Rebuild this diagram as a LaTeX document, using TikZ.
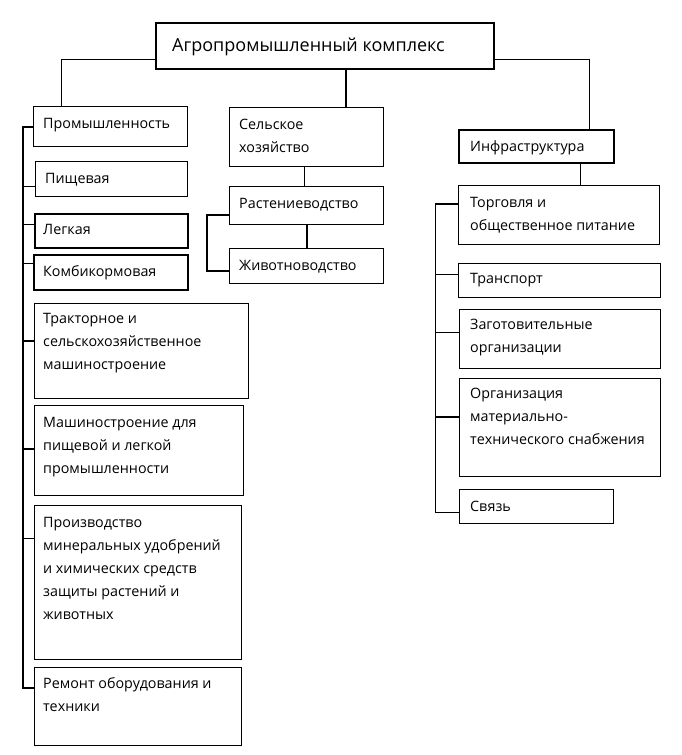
\documentclass[tikz,border=0pt]{standalone}
\usepackage{fontspec}
\setmainfont{Open Sans}
\newcommand\mltext[1]{\begin{tabular}[t]{@{}l@{}}#1\end{tabular}}
\begin{document}
\begin{tikzpicture}[x=1pt,y=-1pt,
  bx/.style={draw, line width=1.4pt, anchor=north west, inner sep=0pt},
  tx/.style={anchor=base west, font=\fontsize{14.3}{23}\selectfont, inner sep=0pt},
  ln/.style={line width=0.9pt},
  lnb/.style={line width=1.8pt}]
\useasboundingbox (0,0) rectangle (681,755);
% boxes
\node[bx, line width=1.8pt, minimum width=338pt, minimum height=46pt] (top) at (155,22) {};
\node[bx, minimum width=154pt, minimum height=40pt] (prom) at (33,106) {};
\node[bx, minimum width=154pt, minimum height=59pt] (selh) at (229,107) {};
\node[bx, line width=1.8pt, minimum width=155pt, minimum height=33pt] (infra) at (458,129) {};
\node[bx, line width=1pt, minimum width=152pt, minimum height=35pt] (pish) at (35,161) {};
\node[bx, line width=1.8pt, minimum width=153pt, minimum height=34pt] (legk) at (34,213) {};
\node[bx, line width=1.6pt, minimum width=154pt, minimum height=35pt] (komb) at (33,254) {};
\node[bx, minimum width=214pt, minimum height=95pt] (trakt) at (34,303) {};
\node[bx, minimum width=209pt, minimum height=90pt] (mash) at (34,405) {};
\node[bx, minimum width=207pt, minimum height=154pt] (proizv) at (34,505) {};
\node[bx, minimum width=207pt, minimum height=78pt] (remont) at (34,667) {};
\node[bx, minimum width=154pt, minimum height=38pt] (rast) at (229,186) {};
\node[bx, minimum width=154pt, minimum height=35pt] (zhiv) at (229,248) {};
\node[bx, minimum width=201pt, minimum height=59pt] (torg) at (458,185) {};
\node[bx, minimum width=202pt, minimum height=34pt] (trans) at (458,263) {};
\node[bx, minimum width=201pt, minimum height=59pt] (zag) at (459,309) {};
\node[bx, minimum width=201pt, minimum height=98pt] (org) at (459,378) {};
\node[bx, minimum width=154pt, minimum height=34pt] (svyaz) at (459,489) {};
% texts
\node[tx, font=\fontsize{18}{22}\selectfont] (top-t) at ([shift={(17pt,-29pt)}]top.north west) {Агропромышленный комплекс};
\node[tx] (prom-t) at ([shift={(10pt,-22pt)}]prom.north west) {Промышленность};
\node[tx] (selh-t) at ([shift={(10pt,-22pt)}]selh.north west) {\mltext{Сельское\\хозяйство}};
\node[tx] (infra-t) at ([shift={(12pt,-22pt)}]infra.north west) {Инфраструктура};
\node[tx] (pish-t) at ([shift={(10pt,-22pt)}]pish.north west) {Пищевая};
\node[tx] (legk-t) at ([shift={(9pt,-21pt)}]legk.north west) {Легкая};
\node[tx] (komb-t) at ([shift={(10pt,-22pt)}]komb.north west) {Комбикормовая};
\node[tx] (trakt-t) at ([shift={(9pt,-20pt)}]trakt.north west) {\mltext{Тракторное и\\сельскохозяйственное\\машиностроение}};
\node[tx] (mash-t) at ([shift={(9pt,-22pt)}]mash.north west) {\mltext{Машиностроение для\\пищевой и легкой\\промышленности}};
\node[tx] (proizv-t) at ([shift={(9pt,-22pt)}]proizv.north west) {\mltext{Производство\\минеральных удобрений\\и химических средств\\защиты растений и\\животных}};
\node[tx] (remont-t) at ([shift={(9pt,-21pt)}]remont.north west) {\mltext{Ремонт оборудования и\\техники}};
\node[tx] (rast-t) at ([shift={(10pt,-22pt)}]rast.north west) {Растениеводство};
\node[tx] (zhiv-t) at ([shift={(10pt,-22pt)}]zhiv.north west) {Животноводство};
\node[tx] (torg-t) at ([shift={(12pt,-22pt)}]torg.north west) {\mltext{Торговля и\\общественное питание}};
\node[tx] (trans-t) at ([shift={(12pt,-20pt)}]trans.north west) {Транспорт};
\node[tx] (zag-t) at ([shift={(11pt,-20pt)}]zag.north west) {\mltext{Заготовительные\\организации}};
\node[tx] (org-t) at ([shift={(11pt,-20pt)}]org.north west) {\mltext{Организация\\материально-\\технического снабжения}};
\node[tx] (svyaz-t) at ([shift={(11pt,-22pt)}]svyaz.north west) {Связь};
% top connectors
\draw[ln] ([yshift=-14pt]top.west) -| ([xshift=-49pt]prom.north);
\draw[ln] ([yshift=-14pt]top.east) -| ([xshift=53.5pt]infra.north);
\draw[lnb] ([xshift=21pt]top.south) -- ([xshift=21pt]top.south |- selh.north);
% middle column
\draw[ln] ([xshift=-2pt]selh.south) -- ([xshift=-2pt]rast.north);
\draw[lnb] (rast.south) -- (zhiv.north);
\draw[lnb] ([yshift=-29pt]rast.north west) -- ++(-22,0) |- ([yshift=-23pt]zhiv.north west);
% left column
\draw[lnb] ([yshift=-21pt]prom.north west) -| ([xshift=-11pt,yshift=-21pt]remont.north west) -- ([yshift=-21pt]remont.north west);
\draw[ln] ([yshift=-25pt]pish.north west) -- ++(-12,0);
\draw[ln] ([yshift=-11pt]legk.north west) -- ++(-11,0);
\draw[ln] ([yshift=-9pt]komb.north west) -- ++(-10,0);
\draw[lnb] ([yshift=-38pt]trakt.north west) -- ++(-11,0);
\draw[lnb] ([yshift=-44pt]mash.north west) -- ++(-11,0);
\draw[ln] ([yshift=-33pt]proizv.north west) -- ++(-11,0);
% right column
\draw[ln] ([xshift=44pt]infra.south) -- ([xshift=44pt]infra.south |- torg.north);
\draw[ln] ([yshift=-19pt]torg.north west) -| ([xshift=-24pt,yshift=-23pt]svyaz.north west) -- ([yshift=-23pt]svyaz.north west);
\draw[lnb] ([yshift=-19pt]torg.north west) -- ++(-23,0);
\draw[ln] ([yshift=-11pt]trans.north west) -- ++(-23,0);
\draw[ln] ([yshift=-23pt]zag.north west) -- ++(-24,0);
\draw[lnb] ([yshift=-39pt]org.north west) -- ++(-24,0);
\end{tikzpicture}
\end{document}
